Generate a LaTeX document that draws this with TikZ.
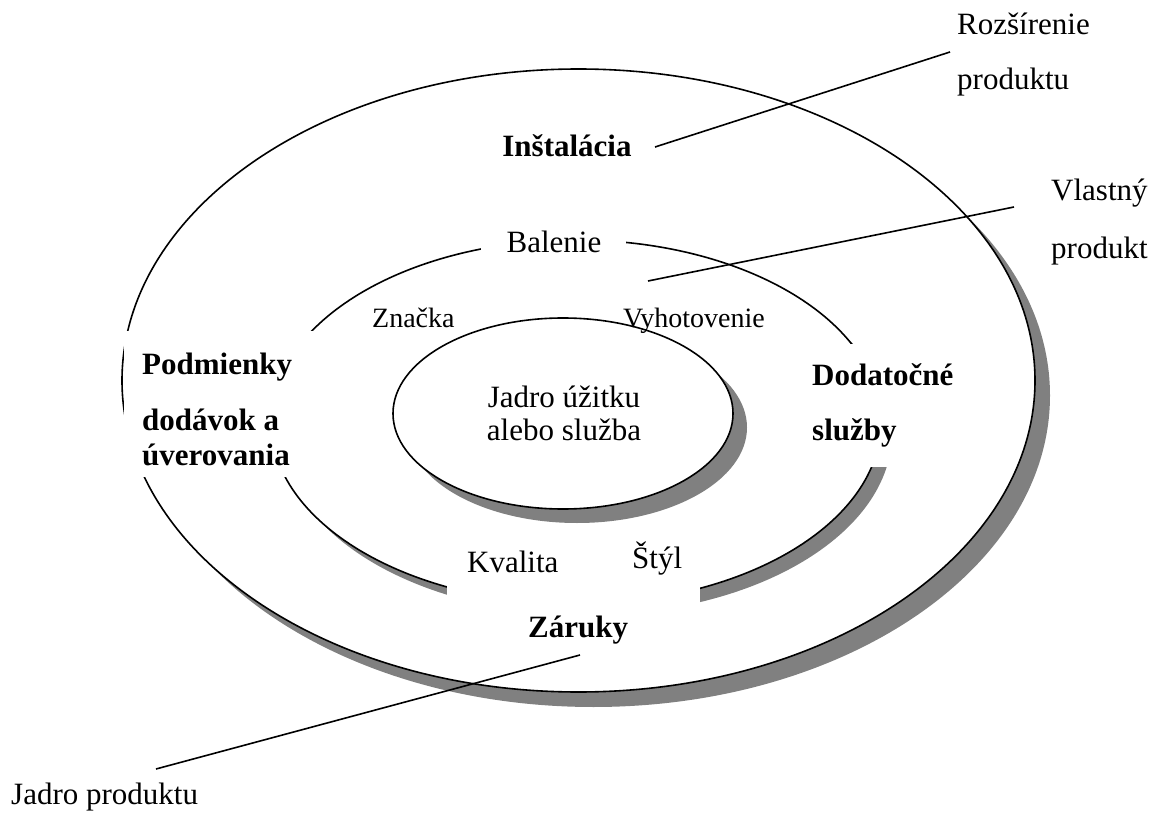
\documentclass[tikz,border=0pt]{standalone}
\usepackage{fontspec}
\setmainfont{Liberation Serif}
\usetikzlibrary{shapes.geometric,shadows}
\definecolor{shadowgray}{RGB}{128,128,128}
\begin{document}
\begin{tikzpicture}[x=1pt,y=-1pt,
  ring/.style={ellipse, draw=black, fill=white, line width=1.6pt, inner sep=0pt},
  dropgray/.style={drop shadow={shadow xshift=#1, shadow yshift=-#1, fill=shadowgray, opacity=1}},
  mask/.style={fill=white},
  txt/.style={inner sep=0pt, font=\fontsize{31}{37}\selectfont},
  txtsmall/.style={inner sep=0pt, font=\fontsize{28}{33}\selectfont},
  txtbold/.style={inner sep=0pt, font=\fontsize{31}{37}\selectfont\bfseries},
  leader/.style={draw=black, line width=1.6pt}]

\useasboundingbox (0,0) rectangle (1160,813);

% three nested levels of the product, each with its shadow
\node[ring, dropgray=15pt, minimum width=913pt, minimum height=623pt] (outer) at (578.5,380.5) {};
\node[ring, dropgray=11pt, minimum width=610pt, minimum height=364pt] (middle) at (576,422) {};
\node[ring, dropgray=14pt, minimum width=340pt, minimum height=191pt] (inner) at (563,413.5) {};

% white text frames that cover the rings behind the labels
\fill[mask] (481,226) rectangle (626,264);
\fill[mask] (123.5,331) rectangle (330,477);
\fill[mask] (805,344) rectangle (960,467);
\fill[mask] (447,578) rectangle (700,665);

% labels
\node[txtbold, anchor=base] (instal) at (567,157) {Inštalácia};
\node[txt, anchor=base west] (rozs1) at (957,35) {Rozšírenie};
\node[txt, anchor=base west] (rozs2) at (957,90) {produktu};
\node[txt, anchor=base west] (vlast1) at (1051,201) {Vlastný};
\node[txt, anchor=base west] (vlast2) at (1051,259) {produkt};
\node[txt, anchor=base] (balenie) at (554,253) {Balenie};
\node[txtsmall, anchor=base west] (znacka) at (372,327) {Značka};
\node[txtsmall, anchor=base west] (vyhot) at (623,327) {Vyhotovenie};
\node[txtbold, anchor=base west] (podm1) at (142,374) {Podmienky};
\node[txtbold, anchor=base west] (podm2) at (142,430) {dodávok a};
\node[txtbold, anchor=base west] (podm3) at (142,465) {úverovania};
\node[txtbold, anchor=base west] (dodat1) at (812,385) {Dodatočné};
\node[txtbold, anchor=base west] (dodat2) at (812,440) {služby};
\node[txt, anchor=base] (jadro1) at (564,407) {Jadro úžitku};
\node[txt, anchor=base] (jadro2) at (564,440) {alebo služba};
\node[txt, anchor=base west] (kval) at (467,572) {Kvalita};
\node[txt, anchor=base west] (styl) at (632,568) {Štýl};
\node[txtbold, anchor=base west] (zaruky) at (528,637) {Záruky};
\node[txt, anchor=base west] (jprod) at (11,804) {Jadro produktu};

% leader lines from the level names into the rings
\coordinate (rozsA) at (655,147);
\coordinate (rozsB) at (950,52);
\coordinate (vlastA) at (648,281);
\coordinate (vlastB) at (1014,207);
\coordinate (jprodA) at (156,769);
\coordinate (jprodB) at (580,655);
\draw[leader] (rozsA) -- (rozsB);
\draw[leader] (vlastA) -- (vlastB);
\draw[leader] (jprodA) -- (jprodB);
\end{tikzpicture}
\end{document}
